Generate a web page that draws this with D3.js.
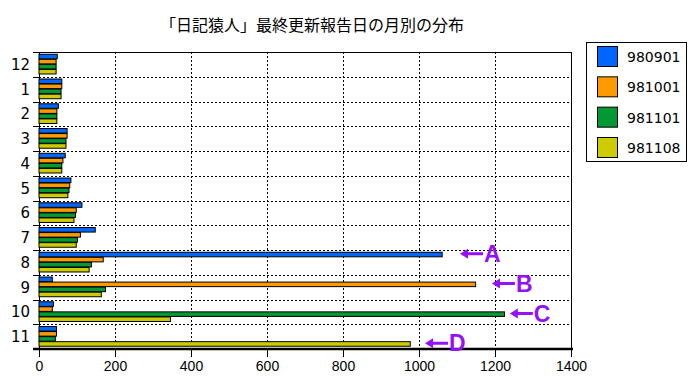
<!DOCTYPE html>
<html>
<head>
<meta charset="utf-8">
<script src="https://cdn.jsdelivr.net/npm/d3@7"></script>
<style>
  body { margin: 0; background: #fff; }
  svg { display: block; font-family: "DejaVu Sans", sans-serif; }
</style>
</head>
<body>
<div id="chart"></div>
<script>
// months, in display order (top to bottom)
const months = ["12", "1", "2", "3", "4", "5", "6", "7", "8", "9", "10", "11"];
const seriesNames = ["980901", "981001", "981101", "981108"];
const seriesColors = ["#0066ff", "#ff9900", "#009933", "#cccc00"];

// counts per month for each snapshot
const s980901 = [48, 60, 51, 74, 69, 84, 113, 148, 1061, 35, 38, 46];
const s981001 = [45, 60, 47, 74, 63, 81, 98, 109, 169, 1149, 35, 46];
const s981101 = [45, 58, 47, 71, 60, 79, 96, 101, 138, 175, 1225, 43];
const s981108 = [45, 58, 47, 71, 60, 76, 92, 98, 132, 164, 346, 977];
const seriesValues = [s980901, s981001, s981101, s981108];

const xTicks = [0, 200, 400, 600, 800, 1000, 1200, 1400];

// arrow annotations
const annLabels = ["A", "B", "C", "D"];
const annMonths = ["8", "9", "10", "11"];
const annSeries = [0, 1, 2, 3];
const annValues = [1108, 1192, 1239, 1016];

const titleText = "「日記猿人」最終更新報告日の月別の分布";

const width = 700, height = 380;
const plotL = 39, plotR = 571, plotT = 52, plotB = 349;

const svg = d3.select("#chart").append("svg")
  .attr("width", width)
  .attr("height", height);

const x = d3.scaleLinear().domain([0, 1400]).range([plotL, plotR]);
const y = d3.scaleBand().domain(months).range([plotT, plotB]);
const ySub = d3.scaleBand().domain(d3.range(seriesNames.length))
  .range([0, y.bandwidth()]).paddingOuter(0.45);

// title
svg.append("text")
  .attr("x", 312)
  .attr("y", 31)
  .attr("text-anchor", "middle")
  .attr("font-family", "'Noto Sans CJK JP', sans-serif")
  .attr("font-size", 16)
  .text(titleText);

// grid
const grid = svg.append("g").attr("stroke", "#000").attr("stroke-width", 1)
  .attr("shape-rendering", "crispEdges");

grid.selectAll(".vgrid")
  .data(xTicks.filter(d => d > 0 && d < 1400))
  .join("line")
  .attr("x1", d => Math.round(x(d)) + 0.5)
  .attr("x2", d => Math.round(x(d)) + 0.5)
  .attr("y1", plotT)
  .attr("y2", plotB)
  .attr("stroke-dasharray", "2,2");

grid.selectAll(".hgrid")
  .data(months.slice(1))
  .join("line")
  .attr("x1", plotL)
  .attr("x2", plotR)
  .attr("y1", d => Math.round(y(d)) + 0.5)
  .attr("y2", d => Math.round(y(d)) + 0.5)
  .attr("stroke-dasharray", "2,2");

// left tick marks between categories
grid.selectAll(".ytick")
  .data(months.concat(["end"]))
  .join("line")
  .attr("x1", plotL - 6)
  .attr("x2", plotL)
  .attr("y1", (d, i) => Math.round(i < months.length ? y(d) : plotB) + 0.5)
  .attr("y2", (d, i) => Math.round(i < months.length ? y(d) : plotB) + 0.5);

// frame: top, right, left
grid.append("line").attr("x1", plotL - 6).attr("x2", plotR).attr("y1", plotT + 0.5).attr("y2", plotT + 0.5);
grid.append("line").attr("x1", plotR + 0.5).attr("x2", plotR + 0.5).attr("y1", plotT).attr("y2", plotB);
grid.append("line").attr("x1", plotL + 0.5).attr("x2", plotL + 0.5).attr("y1", plotT).attr("y2", plotB);

// bars
const bars = svg.append("g");
seriesValues.forEach((vals, si) => {
  bars.append("g")
    .selectAll("rect")
    .data(vals)
    .join("rect")
    .attr("x", x(0))
    .attr("y", (d, i) => y(months[i]) + ySub(si))
    .attr("width", d => x(d) - x(0))
    .attr("height", ySub.bandwidth() - 0.5)
    .attr("fill", seriesColors[si])
    .attr("stroke", "#000")
    .attr("stroke-width", 1);
});

// bottom axis
const xAxis = svg.append("g")
  .attr("transform", `translate(0,${plotB})`)
  .call(d3.axisBottom(x).tickValues(xTicks).tickSize(8).tickPadding(4).tickFormat(d3.format("d")));
xAxis.select(".domain").attr("stroke-width", 2.5).attr("d", `M${plotL - 6},0H${plotR + 2}`);
xAxis.selectAll(".tick line").attr("stroke-width", 1);
xAxis.selectAll(".tick text").attr("font-size", 14).attr("fill", "#000");

// month labels
svg.append("g")
  .selectAll("text")
  .data(months)
  .join("text")
  .attr("x", 30)
  .attr("y", d => y(d) + y.bandwidth() / 2)
  .attr("dy", "0.36em")
  .attr("text-anchor", "end")
  .attr("font-size", 15)
  .text(d => d);

// annotations
const purple = "#9410ff";
const ann = svg.append("g").attr("fill", purple);
annLabels.forEach((lab, i) => {
  const ax = x(annValues[i]);
  const ay = y(annMonths[i]) + ySub(annSeries[i]) + ySub.bandwidth() / 2 - 1;
  ann.append("path")
    .attr("d", `M${ax},${ay} L${ax + 8},${ay - 5} L${ax + 8},${ay - 1.5} L${ax + 23},${ay - 1.5} L${ax + 23},${ay + 1.5} L${ax + 8},${ay + 1.5} L${ax + 8},${ay + 5} Z`);
  ann.append("text")
    .attr("x", ax + 24)
    .attr("y", ay)
    .attr("dy", "0.36em")
    .attr("font-family", "'Liberation Sans', Arial, sans-serif")
    .attr("font-weight", "bold")
    .attr("font-size", 23)
    .text(lab);
});

// legend
const legend = svg.append("g");
legend.append("rect")
  .attr("x", 586.5).attr("y", 42.5)
  .attr("width", 100).attr("height", 119)
  .attr("fill", "#fff").attr("stroke", "#000");
const ly = d3.scalePoint().domain(seriesNames).range([46, 137]);
const item = legend.selectAll(".item")
  .data(seriesNames)
  .join("g")
  .attr("transform", d => `translate(597,${ly(d)})`);
item.append("rect")
  .attr("x", 0.5).attr("y", 0.5)
  .attr("width", 20).attr("height", 20)
  .attr("fill", (d, i) => seriesColors[i])
  .attr("stroke", "#000");
item.append("text")
  .attr("x", 30)
  .attr("y", 11)
  .attr("dy", "0.36em")
  .attr("font-size", 14)
  .text(d => d);
</script>
</body>
</html>
